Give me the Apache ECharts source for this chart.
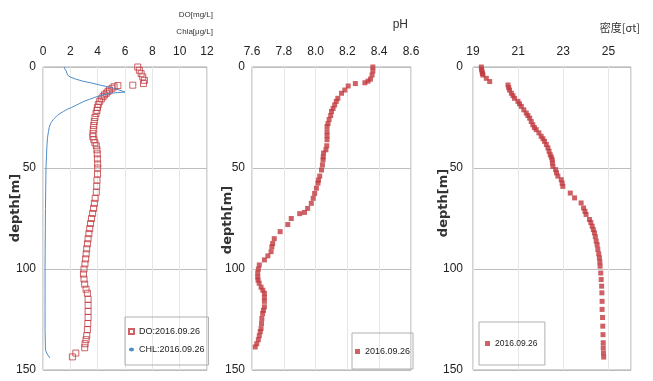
<!DOCTYPE html>
<html>
<head>
<meta charset="utf-8">
<script src="https://cdn.jsdelivr.net/npm/echarts@6/dist/echarts.min.js"></script>
<style>
  html, body { margin: 0; padding: 0; background: #fff; }
  #chart { width: 653px; height: 381px; }
</style>
</head>
<body>
<div id="chart"></div>
<script>
/* depth profile data, 2016.09.26 */
var doDepth = [0, 1.6, 3.3, 4.9, 6.6, 8.2, 9, 9.2, 9.8, 10.5, 11.4, 12.2, 13, 13.8, 14.7, 15.8, 17, 18.5, 20, 21.5, 23, 25, 27, 29, 31, 33, 34.5, 36, 37.5, 39, 41, 43, 45.5, 48, 50, 53, 56, 59, 62, 65, 67.5, 70, 72.5, 75, 77.5, 80, 82.5, 85, 87.5, 90, 92.5, 95, 97.5, 100, 102.5, 105, 107.5, 110, 112, 115, 118, 121, 124, 127, 130, 133, 135, 137, 139, 141.6, 143.5];
var doVal = [6.93, 7.05, 7.18, 7.3, 7.42, 7.35, 6.57, 5.48, 5.2, 5.05, 4.87, 4.75, 4.63, 4.5, 4.39, 4.27, 4.15, 4.05, 3.98, 3.95, 3.88, 3.8, 3.75, 3.71, 3.68, 3.66, 3.65, 3.72, 3.8, 3.9, 3.95, 3.97, 3.98, 4.0, 4.0, 3.99, 3.95, 3.93, 3.9, 3.82, 3.76, 3.7, 3.63, 3.55, 3.48, 3.42, 3.36, 3.3, 3.25, 3.2, 3.16, 3.12, 3.07, 3.0, 2.96, 3.0, 3.05, 3.15, 3.25, 3.3, 3.3, 3.3, 3.3, 3.28, 3.25, 3.2, 3.15, 3.08, 3.05, 2.4, 2.15];

var chlDepth = [0, 1, 2, 3, 4, 5, 6, 7, 8, 9, 10, 11, 12.4, 13, 14, 15, 16, 17, 18, 19, 20, 21, 22, 23, 24, 25, 26, 27, 28, 30, 32, 35, 40, 45, 50, 60, 70, 80, 90, 100, 110, 120, 130, 140, 142, 144];
var chlVal = [1.55, 1.6, 1.7, 1.75, 1.8, 2.0, 2.4, 2.9, 3.6, 4.2, 4.9, 5.4, 6.0, 4.9, 4.3, 3.8, 3.4, 3.0, 2.7, 2.4, 2.1, 1.75, 1.5, 1.25, 1.05, 0.9, 0.75, 0.65, 0.55, 0.45, 0.4, 0.33, 0.28, 0.25, 0.22, 0.2, 0.18, 0.17, 0.16, 0.15, 0.15, 0.15, 0.15, 0.18, 0.3, 0.5];

var phDepth = [0, 2, 4, 6, 7, 7.8, 8.2, 9.4, 11.4, 13, 15.5, 17, 18.8, 20.5, 22, 24, 26, 28, 29.5, 32, 34, 36, 39, 41, 42.6, 44.5, 46, 48.5, 51, 54, 56, 57.5, 60, 62.6, 65, 67.5, 70, 72, 72.6, 75, 78, 81.5, 85, 87.4, 89, 91.4, 93.5, 95.5, 98, 100, 102, 104, 105.5, 107, 109, 110.5, 112, 114, 116, 118.7, 120.5, 122, 124.5, 127, 129.5, 131, 133, 135, 137, 138.6];
var phVal = [8.36, 8.36, 8.355, 8.345, 8.33, 8.31, 8.25, 8.205, 8.184, 8.163, 8.14, 8.13, 8.12, 8.11, 8.1, 8.095, 8.085, 8.078, 8.072, 8.072, 8.072, 8.072, 8.07, 8.065, 8.05, 8.048, 8.047, 8.043, 8.037, 8.026, 8.018, 8.015, 8.005, 7.994, 7.985, 7.973, 7.95, 7.93, 7.9, 7.847, 7.825, 7.777, 7.74, 7.73, 7.725, 7.72, 7.7, 7.678, 7.646, 7.64, 7.636, 7.636, 7.638, 7.645, 7.657, 7.668, 7.678, 7.678, 7.678, 7.678, 7.672, 7.667, 7.662, 7.66, 7.657, 7.652, 7.646, 7.64, 7.63, 7.62];

var sigDepth = [0, 1.2, 2.3, 3.2, 4, 5.6, 7.2, 8.9, 10.2, 11.4, 13, 14.2, 15.5, 17, 18.2, 19.5, 21.2, 22.8, 24, 25.3, 27, 28.6, 30, 31, 32.6, 34.3, 35.5, 36.8, 38.4, 40, 41.7, 43.4, 44.6, 45.9, 47.5, 49.2, 50.8, 52.4, 54, 55.8, 57.5, 59.1, 62.4, 64.8, 67.3, 69.8, 71.5, 73, 75.5, 77, 78.8, 80.5, 82.1, 84, 86.2, 88, 90.3, 92.5, 94.5, 96.5, 98.6, 102, 105.2, 108.5, 111.8, 116, 120, 124, 128.3, 132.5, 136.5, 139, 141.5, 143.6];
var sigVal = [19.37, 19.38, 19.4, 19.42, 19.44, 19.59, 19.74, 20.55, 20.58, 20.62, 20.7, 20.77, 20.84, 20.99, 21.06, 21.14, 21.25, 21.36, 21.43, 21.51, 21.58, 21.65, 21.72, 21.8, 21.92, 22.02, 22.1, 22.17, 22.25, 22.32, 22.37, 22.42, 22.47, 22.51, 22.52, 22.54, 22.66, 22.7, 22.76, 22.91, 22.95, 22.98, 23.31, 23.5, 23.79, 23.9, 23.96, 24.01, 24.16, 24.22, 24.28, 24.33, 24.38, 24.42, 24.46, 24.5, 24.53, 24.57, 24.6, 24.62, 24.63, 24.66, 24.68, 24.7, 24.71, 24.72, 24.72, 24.74, 24.75, 24.76, 24.77, 24.77, 24.78, 24.79];

var doTicks = [0, 12, 2];
var phTicks = [7.6, 8.6, 0.2];
var sigTicks = [19, 26, 2];
var depthTicks = [0, 150, 50];

var RED = '#c0393f';
var BLUE = '#4f8cc9';
var FONT = '"Liberation Sans", Arial, sans-serif';

function pairs(xs, ds) {
  var out = [];
  for (var i = 0; i < xs.length; i++) out.push([xs[i], ds[i]]);
  return out;
}

function xAxisOf(idx, ticks, fmt) {
  return {
    gridIndex: idx, type: 'value', position: 'top',
    min: ticks[0], max: ticks[1], interval: ticks[2],
    axisLine: { show: false }, axisTick: { show: false },
    axisLabel: { margin: 9, fontSize: 12, color: '#222', fontFamily: FONT,
      showMaxLabel: idx !== 2, formatter: fmt },
    splitLine: { lineStyle: { color: '#e6e6e6' } }
  };
}

function yAxisOf(idx, margin) {
  return {
    gridIndex: idx, type: 'value', inverse: true,
    min: depthTicks[0], max: depthTicks[1], interval: depthTicks[2],
    axisLine: { show: false }, axisTick: { show: false },
    axisLabel: { margin: margin, fontSize: 12, color: '#222', fontFamily: FONT },
    splitLine: { lineStyle: { color: '#bdbdbd' } }
  };
}

var gridBase = { top: 67, height: 303, show: true, borderColor: '#a8a8a8', borderWidth: 1 };

function legendOf(left, top, padding, size, names) {
  return {
    orient: 'vertical', show: true, borderColor: '#b0b0b0', borderWidth: 1,
    left: left, top: top, padding: padding,
    itemWidth: 5, itemHeight: 5, itemGap: 9,
    textStyle: { fontSize: size, color: '#222', fontFamily: FONT },
    data: names
  };
}

function depthTitle(x, y) {
  return {
    type: 'text', x: x, y: y, rotation: Math.PI / 2,
    style: { text: 'depth[m]', fontSize: 13, fontWeight: 'bold', fontFamily: 'DejaVu Sans',
      fill: '#333', align: 'center', verticalAlign: 'middle' }
  };
}

var myChart = echarts.init(document.getElementById('chart'));
var option = {
  animation: false,
  backgroundColor: '#fff',
  grid: [
    Object.assign({ left: 43, width: 164 }, gridBase),
    Object.assign({ left: 252, width: 159 }, gridBase),
    Object.assign({ left: 473, width: 158 }, gridBase)
  ],
  xAxis: [
    xAxisOf(0, doTicks),
    xAxisOf(1, phTicks, function (v) { return v.toFixed(1); }),
    xAxisOf(2, sigTicks)
  ],
  yAxis: [yAxisOf(0, 7), yAxisOf(1, 7), yAxisOf(2, 10)],
  legend: [
    legendOf(125, 317, [10, 4, 11, 3], 9, ['DO:2016.09.26', 'CHL:2016.09.26']),
    legendOf(352, 333, [14, 3, 13, 3], 9, ['2016.09.26']),
    legendOf(479, 322, [17, 5, 17, 6], 8.5, ['2016.09.26 '])
  ],
  graphic: [
    { type: 'text', x: 213, y: 15, style: { text: 'DO[mg/L]', fontSize: 8, fill: '#333',
      fontFamily: FONT, align: 'right', verticalAlign: 'middle' } },
    { type: 'text', x: 213, y: 32, style: { text: 'Chla[μg/L]', fontSize: 8, fill: '#333',
      fontFamily: FONT, align: 'right', verticalAlign: 'middle' } },
    { type: 'text', x: 408, y: 25, style: { text: 'pH', fontSize: 12, fill: '#333',
      fontFamily: FONT, align: 'right', verticalAlign: 'middle' } },
    { type: 'text', x: 640, y: 28, style: { text: '密度[σt]', fontSize: 11, fill: '#333',
      fontFamily: '"Noto Sans CJK JP", sans-serif', align: 'right', verticalAlign: 'middle' } },
    depthTitle(16, 208),
    depthTitle(228, 220),
    depthTitle(444, 203)
  ],
  series: [
    {
      name: 'DO:2016.09.26', type: 'scatter', xAxisIndex: 0, yAxisIndex: 0,
      symbol: 'rect', symbolSize: 6,
      itemStyle: { color: 'rgba(255,255,255,0)', borderColor: RED, borderWidth: 1 },
      data: pairs(doVal, doDepth)
    },
    {
      name: 'CHL:2016.09.26', type: 'line', xAxisIndex: 0, yAxisIndex: 0,
      symbol: 'none', lineStyle: { color: BLUE, width: 1 }, itemStyle: { color: BLUE },
      data: pairs(chlVal, chlDepth)
    },
    {
      name: '2016.09.26', type: 'scatter', xAxisIndex: 1, yAxisIndex: 1,
      symbol: 'rect', symbolSize: 5, itemStyle: { color: RED },
      data: pairs(phVal, phDepth)
    },
    {
      name: '2016.09.26 ', type: 'scatter', xAxisIndex: 2, yAxisIndex: 2,
      symbol: 'rect', symbolSize: 5, itemStyle: { color: RED },
      data: pairs(sigVal, sigDepth)
    }
  ]
};

myChart.setOption(option);
</script>
</body>
</html>
